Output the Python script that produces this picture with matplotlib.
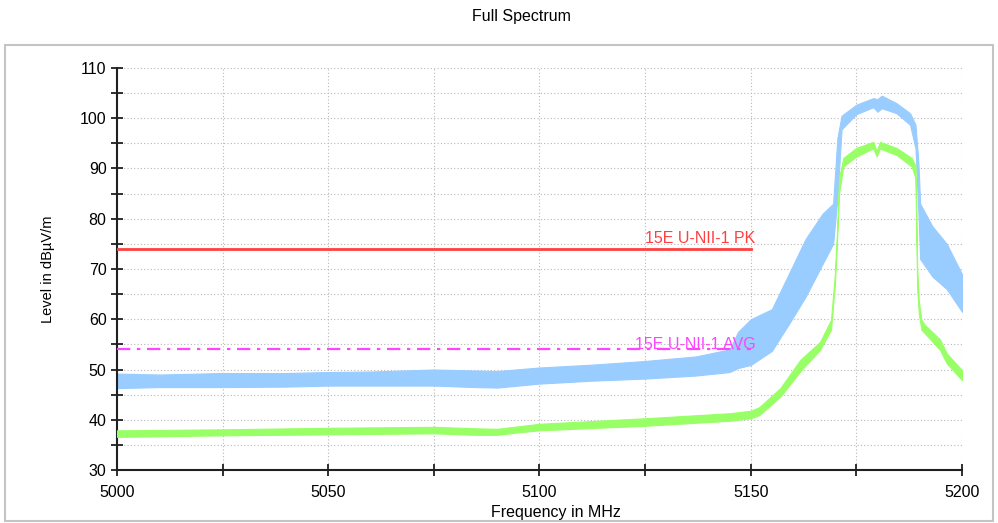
import matplotlib
matplotlib.use("Agg")
import matplotlib.pyplot as plt
from matplotlib.patches import Rectangle
from matplotlib.ticker import MultipleLocator

# ---- data (envelopes of the noisy traces) ----
# peak trace (light blue): frequency, lower and upper envelope
pk_freq = [5000, 5010, 5025, 5040, 5050, 5060, 5075, 5085, 5090, 5100, 5113,
           5125, 5137, 5145, 5147, 5150, 5155, 5159, 5163, 5167, 5169.5,
           5170.5, 5171.5, 5175, 5179, 5180, 5181, 5184.5, 5187.7, 5189,
           5189.7, 5190.1, 5193, 5196.4, 5200]
pk_lo = [46.3, 46.5, 46.5, 46.6, 46.8, 46.8, 46.8, 46.5, 46.4, 47.2, 47.8,
         48.2, 48.8, 49.5, 50.3, 50.9, 53.7, 59.0, 64.5, 71.0, 75.0,
         84.0, 97.8, 100.8, 102.2, 101.3, 102.0, 101.0, 98.7, 94.0,
         81.0, 72.0, 68.5, 66.0, 61.5]
pk_hi = [49.2, 49.0, 49.3, 49.3, 49.5, 49.6, 50.0, 49.8, 49.7, 50.4, 51.0,
         51.7, 52.6, 54.0, 57.5, 60.0, 62.0, 69.0, 76.0, 81.0, 83.0,
         96.0, 100.5, 102.7, 104.0, 103.8, 104.5, 103.0, 101.0, 98.7,
         91.0, 83.0, 78.5, 75.0, 69.0]

# average trace (light green)
av_freq = [5000, 5025, 5050, 5075, 5085, 5090, 5095, 5100, 5125, 5145, 5150,
           5152, 5157, 5161.7, 5166.4, 5169, 5169.9, 5170.4, 5170.9, 5171.9,
           5175, 5179, 5179.8, 5180.6, 5184.5, 5188.1, 5189, 5189.4, 5189.8,
           5190.4, 5191.2, 5194.8, 5196.4, 5200]
av_lo = [36.6, 36.9, 37.1, 37.3, 37.0, 37.0, 37.5, 37.9, 38.8, 39.8, 40.3,
         40.9, 44.6, 49.6, 53.9, 57.9, 66.8, 75.0, 85.0, 90.4,
         92.4, 94.0, 92.4, 94.0, 92.7, 90.4, 88.0, 66.0, 61.0,
         57.9, 57.2, 53.9, 51.2, 47.9]
av_hi = [37.9, 38.1, 38.4, 38.6, 38.3, 38.2, 38.7, 39.2, 40.3, 41.3, 41.8,
         42.5, 46.3, 51.9, 55.5, 59.9, 68.8, 77.0, 88.0, 92.1,
         94.1, 95.3, 93.5, 95.3, 94.1, 92.1, 90.5, 70.0, 63.5,
         59.9, 58.9, 56.0, 53.2, 49.9]

# limit lines
pk_limit_freq = [5000, 5150]
pk_limit_level = [74, 74]
av_limit_freq = [5000, 5150]
av_limit_level = [54, 54]
pk_limit_name = "15E U-NII-1 PK"
av_limit_name = "15E U-NII-1 AVG"

plt.rcParams["font.family"] = ["Liberation Sans", "DejaVu Sans"]

fig = plt.figure(figsize=(9.98, 5.23), dpi=100)
ax = fig.add_axes([0.1172, 0.1013, 0.8467, 0.7687])

# panel frame
fig.add_artist(Rectangle((0.005, 0.004), 0.99, 0.91, transform=fig.transFigure,
                         fill=False, ec="#c4c4c4", lw=1.5))

ax.fill_between(pk_freq, pk_lo, pk_hi, color="#99ccff", lw=0.8, ec="#99ccff", zorder=2)
ax.fill_between(av_freq, av_lo, av_hi, color="#99ff66", lw=0.8, ec="#99ff66", zorder=3)

ax.plot(pk_limit_freq, pk_limit_level, color="#ff4040", lw=2, zorder=4)
ax.plot(av_limit_freq, av_limit_level, color="#ff44ff", lw=1.6,
        linestyle=(0, (6, 3, 1.5, 3)), zorder=4)
ax.text(5138, 74.5, pk_limit_name, color="#ff4040", fontsize=11.5,
        ha="center", va="bottom", zorder=5)
ax.text(5137, 53.5, av_limit_name, color="#ff44ff", fontsize=11.5,
        ha="center", va="bottom", zorder=5)

ax.set_xlim(5000, 5200)
ax.set_ylim(30, 110)
ax.xaxis.set_major_locator(MultipleLocator(50))
ax.xaxis.set_minor_locator(MultipleLocator(25))
ax.yaxis.set_major_locator(MultipleLocator(10))
ax.yaxis.set_minor_locator(MultipleLocator(5))
ax.grid(which="both", color="#b8b8b8", linestyle=(0, (1, 2)), lw=0.8, zorder=1)
ax.set_axisbelow(True)

for s in ("top", "right"):
    ax.spines[s].set_visible(False)
for s in ("left", "bottom"):
    ax.spines[s].set_linewidth(1.5)
    ax.spines[s].set_color("#202020")

ax.tick_params(which="both", direction="inout", length=9, width=1.3,
               labelsize=11.5, color="#202020")
ax.tick_params(axis="x", which="both", pad=6)
ax.tick_params(axis="y", which="both", pad=3)

ax.set_xlabel("Frequency in MHz", fontsize=11.5)
ax.set_ylabel("Level in dB\u00b5V/m", fontsize=10.5)
ax.xaxis.set_label_coords(0.52, -0.087)
ax.yaxis.set_label_coords(-0.073, 0.5)

fig.text(521 / 998, 1 - 16 / 523, "Full Spectrum", ha="center", va="center", fontsize=11.5)

fig.savefig("out.png", dpi=100)
